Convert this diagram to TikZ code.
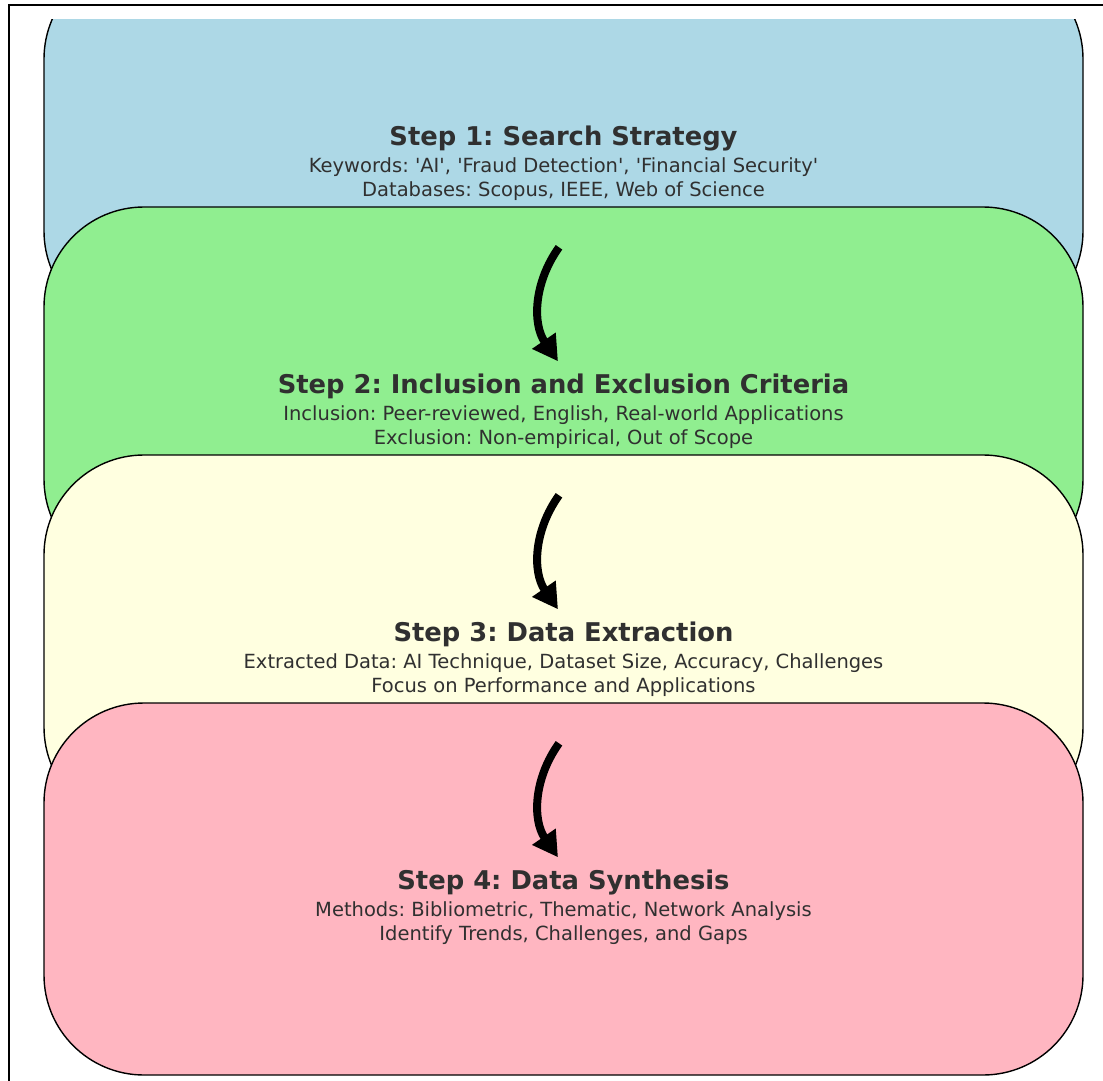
\documentclass[tikz,border=0pt]{standalone}
\usepackage{fontspec}
\setmainfont{DejaVu Sans}
\usetikzlibrary{arrows.meta}

\definecolor{boxblue}{HTML}{ADD8E6}
\definecolor{boxgreen}{HTML}{90EE90}
\definecolor{boxyellow}{HTML}{FFFFE0}
\definecolor{boxpink}{HTML}{FFB6C1}
\definecolor{steptext}{HTML}{303030}

\tikzset{
  stepbox/.style={draw=black, line width=1.4pt, rounded corners=100pt,
    minimum width=1039pt, minimum height=372pt, inner sep=0pt},
  steptitle/.style={anchor=base, inner sep=0pt, text=steptext,
    font=\fontsize{25.8}{30}\selectfont\bfseries\frenchspacing},
  stepbody/.style={anchor=north, inner sep=0pt, align=center, text=steptext,
    font=\fontsize{19.5}{24}\selectfont\frenchspacing},
  flowarrow/.style={line width=8pt, -{Triangle[length=25pt,width=27pt]}}
}

\begin{document}
\begin{tikzpicture}[x=1pt,y=-1pt]
            \useasboundingbox (0,0) rectangle (1103,1081);
            \draw[line width=1.2pt] (9,1081) -- (9,5) -- (1103,5);
            \begin{scope}
            \clip (0,20) rectangle (1103,1081);
            \node[stepbox, fill=boxblue] (s1) at (563.5,145) {};
            \node[stepbox, fill=boxgreen] (s2) at (563.5,393) {};
            \node[stepbox, fill=boxyellow] (s3) at (563.5,641) {};
            \node[stepbox, fill=boxpink] (s4) at (563.5,889) {};
            \end{scope}
            % titles sit on the box centre, details just below
            \node[steptitle] (t1) at (s1.center) {Step 1: Search Strategy};
            \node[stepbody] (d1) at ([yshift=-12pt]s1.center) {Keywords: \textquotesingle AI\textquotesingle, \textquotesingle Fraud Detection\textquotesingle, \textquotesingle Financial Security\textquotesingle\\Databases: Scopus, IEEE, Web of Science};
            \node[steptitle] (t2) at (s2.center) {Step 2: Inclusion and Exclusion Criteria};
            \node[stepbody] (d2) at ([yshift=-12pt]s2.center) {Inclusion: Peer-reviewed, English, Real-world Applications\\Exclusion: Non-empirical, Out of Scope};
            \node[steptitle] (t3) at (s3.center) {Step 3: Data Extraction};
            \node[stepbody] (d3) at ([yshift=-12pt]s3.center) {Extracted Data: AI Technique, Dataset Size, Accuracy, Challenges\\Focus on Performance and Applications};
            \node[steptitle] (t4) at (s4.center) {Step 4: Data Synthesis};
            \node[stepbody] (d4) at ([yshift=-12pt]s4.center) {Methods: Bibliometric, Thematic, Network Analysis\\Identify Trends, Challenges, and Gaps};
            % curved arrows between the steps
            \coordinate (a1) at ([xshift=-4.5pt,yshift=-41pt]s2.north);
            \coordinate (b1) at ([xshift=-5.5pt,yshift=-155pt]s2.north);
            \coordinate (a2) at ([xshift=-4.5pt,yshift=-41pt]s3.north);
            \coordinate (b2) at ([xshift=-5.5pt,yshift=-155pt]s3.north);
            \coordinate (a3) at ([xshift=-4.5pt,yshift=-41pt]s4.north);
            \coordinate (b3) at ([xshift=-5.5pt,yshift=-155pt]s4.north);
            \draw[flowarrow] (a1) to[bend right=35] (b1);
            \draw[flowarrow] (a2) to[bend right=35] (b2);
            \draw[flowarrow] (a3) to[bend right=35] (b3);
        \end{tikzpicture}
\end{document}
